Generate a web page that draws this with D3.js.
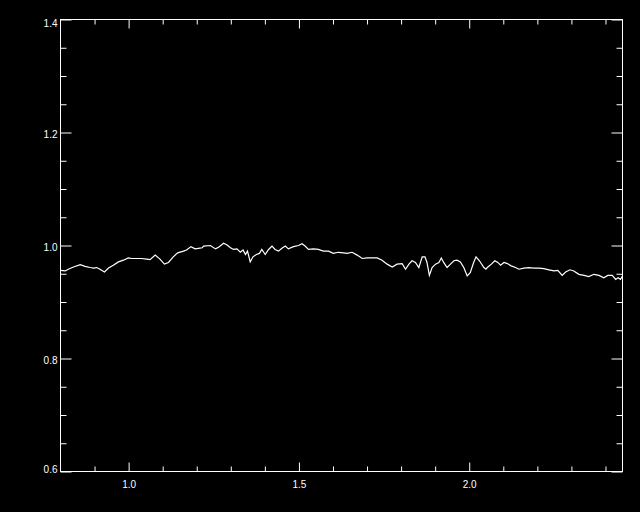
<!DOCTYPE html>
<html>
<head>
<meta charset="utf-8">
<script src="https://cdn.jsdelivr.net/npm/d3@7/dist/d3.min.js"></script>
<style>
  html, body { margin: 0; padding: 0; background: #000; }
  #canvas { width: 640px; height: 512px; }
  text { font-family: "Liberation Sans", Arial, sans-serif; font-size: 10px; fill: #fff; }
</style>
</head>
<body>
<div id="canvas"></div>
<script>
// spectrum
const wave = [0.800, 0.814, 0.823, 0.838, 0.858, 0.872, 0.887, 0.897, 0.906, 0.916,
  0.929, 0.941, 0.955, 0.970, 0.985, 0.999, 1.009, 1.024, 1.038, 1.053,
  1.063, 1.078, 1.092, 1.105, 1.117, 1.131, 1.144, 1.161, 1.170, 1.183,
  1.195, 1.205, 1.216, 1.220, 1.240, 1.255, 1.264, 1.279, 1.289, 1.299,
  1.308, 1.318, 1.328, 1.336, 1.343, 1.349, 1.357, 1.365, 1.375, 1.384,
  1.391, 1.401, 1.411, 1.421, 1.430, 1.440, 1.450, 1.460, 1.469, 1.484,
  1.499, 1.509, 1.518, 1.528, 1.543, 1.557, 1.572, 1.587, 1.601, 1.616,
  1.631, 1.642, 1.656, 1.671, 1.686, 1.700, 1.715, 1.730, 1.744, 1.759,
  1.774, 1.788, 1.803, 1.813, 1.823, 1.832, 1.842, 1.852, 1.862, 1.870,
  1.876, 1.883, 1.891, 1.901, 1.911, 1.918, 1.925, 1.935, 1.945, 1.955,
  1.964, 1.974, 1.984, 1.994, 2.003, 2.013, 2.020, 2.030, 2.043, 2.049,
  2.053, 2.065, 2.075, 2.084, 2.092, 2.102, 2.112, 2.123, 2.136, 2.146,
  2.161, 2.175, 2.190, 2.205, 2.219, 2.234, 2.249, 2.260, 2.273, 2.283,
  2.296, 2.307, 2.322, 2.337, 2.351, 2.366, 2.381, 2.395, 2.407, 2.420,
  2.430, 2.437, 2.444, 2.450];
const flux = [0.956, 0.955, 0.958, 0.962, 0.966, 0.963, 0.961, 0.960, 0.961, 0.958,
  0.953, 0.960, 0.965, 0.971, 0.974, 0.978, 0.977, 0.977, 0.977, 0.976,
  0.975, 0.983, 0.976, 0.967, 0.970, 0.980, 0.987, 0.990, 0.992, 0.998,
  0.994, 0.995, 0.996, 0.999, 1.000, 0.994, 0.997, 1.004, 1.001, 0.996,
  0.993, 0.994, 0.988, 0.992, 0.984, 0.990, 0.971, 0.980, 0.984, 0.986,
  0.993, 0.984, 0.993, 0.999, 0.993, 0.990, 0.995, 0.999, 0.994, 0.998,
  1.000, 1.003, 0.999, 0.993, 0.994, 0.993, 0.990, 0.990, 0.986, 0.988,
  0.987, 0.986, 0.988, 0.983, 0.977, 0.978, 0.978, 0.978, 0.974, 0.967,
  0.962, 0.967, 0.968, 0.958, 0.967, 0.973, 0.970, 0.961, 0.980, 0.980,
  0.970, 0.947, 0.961, 0.967, 0.970, 0.978, 0.970, 0.961, 0.967, 0.973,
  0.974, 0.971, 0.961, 0.946, 0.952, 0.970, 0.980, 0.973, 0.961, 0.958,
  0.961, 0.967, 0.973, 0.970, 0.965, 0.970, 0.968, 0.964, 0.961, 0.958,
  0.960, 0.961, 0.960, 0.960, 0.959, 0.957, 0.955, 0.956, 0.947, 0.953,
  0.957, 0.955, 0.949, 0.947, 0.945, 0.949, 0.947, 0.943, 0.947, 0.947,
  0.940, 0.943, 0.940, 0.946];

const xDomain = [0.8, 2.45];
const yDomain = [0.6, 1.4];
const xMajor = [1.0, 1.5, 2.0];
const xMinor = [0.9, 1.1, 1.2, 1.3, 1.4, 1.6, 1.7, 1.8, 1.9, 2.1, 2.2, 2.3, 2.4];
const yMajor = [0.6, 0.8, 1.0, 1.2, 1.4];
const yMinor = [0.65, 0.7, 0.75, 0.85, 0.9, 0.95, 1.05, 1.1, 1.15, 1.25, 1.3, 1.35];

const w = 640, h = 512;
const mLeft = 60.5, mRight = 622.5, mTop = 19.5, mBottom = 471.5;

const svg = d3.select("#canvas")
  .append("svg")
    .attr("width", w)
    .attr("height", h)
    .attr("viewBox", [0, 0, w, h]);

svg.append("rect").attr("width", w).attr("height", h).attr("fill", "#000");

const x = d3.scaleLinear().domain(xDomain).range([mLeft, mRight]);
const y = d3.scaleLinear().domain(yDomain).range([mBottom, mTop]);

function styleAxis(g) {
  g.select(".domain").remove();
  g.selectAll(".tick line").attr("stroke", "#fff").attr("stroke-width", 1);
}

function styleText(sel) {
  sel.style("font-family", "'Liberation Sans', Arial, sans-serif")
    .style("font-size", "10px")
    .attr("fill", "#fff");
}

// bottom
svg.append("g").attr("transform", "translate(0," + mBottom + ")")
  .call(d3.axisBottom(x).tickValues(xMajor).tickSize(-9).tickFormat(d3.format(".1f")))
  .call(styleAxis)
  .call(g => g.selectAll("text").attr("y", 16).attr("dy", 0).call(styleText));
svg.append("g").attr("transform", "translate(0," + mBottom + ")")
  .call(d3.axisBottom(x).tickValues(xMinor).tickSize(-5).tickFormat(""))
  .call(styleAxis);

// top
svg.append("g").attr("transform", "translate(0," + mTop + ")")
  .call(d3.axisTop(x).tickValues(xMajor).tickSize(-9).tickFormat(""))
  .call(styleAxis);
svg.append("g").attr("transform", "translate(0," + mTop + ")")
  .call(d3.axisTop(x).tickValues(xMinor).tickSize(-5).tickFormat(""))
  .call(styleAxis);

// left
svg.append("g").attr("transform", "translate(" + mLeft + ",0)")
  .call(d3.axisLeft(y).tickValues(yMajor).tickSize(-11).tickFormat(d3.format(".1f")))
  .call(styleAxis)
  .call(g => g.selectAll("text")
    .attr("x", -3)
    .attr("dy", d => d === 1.4 ? 7 : (d === 0.6 ? 0.5 : 4.5))
    .call(styleText));
svg.append("g").attr("transform", "translate(" + mLeft + ",0)")
  .call(d3.axisLeft(y).tickValues(yMinor).tickSize(-6).tickFormat(""))
  .call(styleAxis);

// right
svg.append("g").attr("transform", "translate(" + mRight + ",0)")
  .call(d3.axisRight(y).tickValues(yMajor).tickSize(-11).tickFormat(""))
  .call(styleAxis);
svg.append("g").attr("transform", "translate(" + mRight + ",0)")
  .call(d3.axisRight(y).tickValues(yMinor).tickSize(-6).tickFormat(""))
  .call(styleAxis);

// frame
svg.append("rect")
  .attr("x", mLeft).attr("y", mTop)
  .attr("width", mRight - mLeft).attr("height", mBottom - mTop)
  .attr("fill", "none").attr("stroke", "#fff").attr("stroke-width", 1);

svg.append("clipPath").attr("id", "clip")
  .append("rect").attr("x", mLeft).attr("y", mTop)
  .attr("width", mRight - mLeft).attr("height", mBottom - mTop);

const line = d3.line()
  .x((d, i) => x(wave[i]))
  .y(d => y(d));

svg.append("path")
  .datum(flux)
  .attr("clip-path", "url(#clip)")
  .attr("fill", "none")
  .attr("stroke", "#fff")
  .attr("stroke-width", 1.2)
  .attr("d", line);
</script>
</body>
</html>
